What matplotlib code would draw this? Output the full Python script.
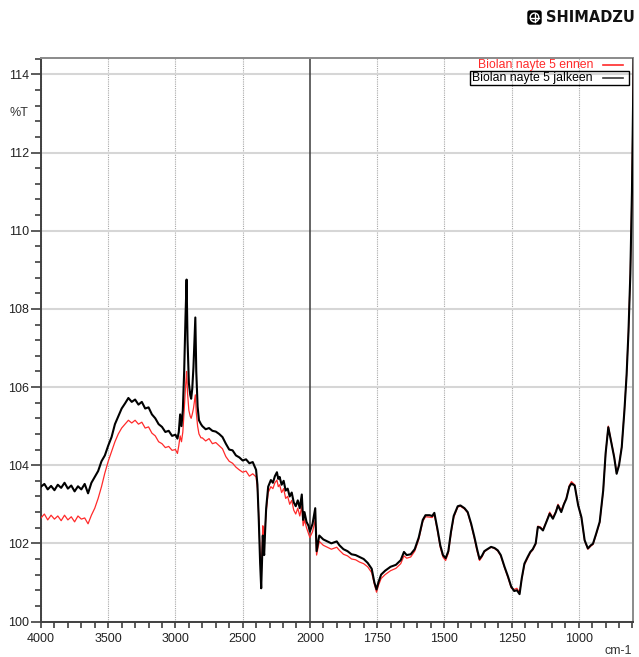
import matplotlib
matplotlib.use("Agg")
import matplotlib.pyplot as plt
import numpy as np
from matplotlib.ticker import FixedLocator, MultipleLocator, FormatStrFormatter
from matplotlib.patches import Rectangle, FancyBboxPatch, Circle
from matplotlib.lines import Line2D

plt.rcParams['font.family'] = ['Liberation Sans', 'DejaVu Sans']

# wavenumbers (cm-1)
wavenumber = [
    4000, 3975, 3950, 3925, 3900, 3875, 3850, 3825, 3800, 3775,
    3750, 3725, 3700, 3675, 3650, 3625, 3600, 3575, 3550, 3525,
    3500, 3475, 3450, 3425, 3400, 3375, 3350, 3325, 3300, 3275,
    3250, 3225, 3200, 3175, 3150, 3125, 3100, 3075, 3050, 3025,
    3000,
    2985, 2975, 2965, 2955, 2945, 2935, 2925, 2917, 2910, 2900,
    2890, 2883, 2875, 2866, 2858, 2852, 2845, 2835, 2825, 2810,
    2800, 2775, 2750, 2725, 2700, 2675, 2650, 2625, 2600, 2575,
    2550, 2525, 2500, 2475, 2450, 2425, 2400, 2390, 2380, 2370,
    2362, 2355, 2350, 2345, 2340, 2333, 2325, 2310, 2290, 2275,
    2260, 2245, 2235, 2225, 2210, 2195, 2180, 2165, 2150, 2135,
    2120, 2105, 2090, 2075, 2060, 2050, 2040, 2025, 2010, 2000,
    1990, 1980, 1975, 1965, 1950, 1935, 1920, 1900, 1890, 1875,
    1860, 1845, 1830, 1815, 1800, 1785, 1770, 1760, 1752, 1745,
    1735, 1720, 1700, 1680, 1662, 1650, 1640, 1625, 1610, 1595,
    1580, 1570, 1555, 1545, 1537, 1525, 1515, 1505, 1495, 1485,
    1475, 1465, 1450, 1440, 1425, 1413, 1400, 1388, 1378, 1369,
    1360, 1351, 1340, 1326, 1313, 1301, 1290, 1276, 1263, 1251,
    1240, 1230, 1220, 1212, 1202, 1190, 1180, 1171, 1160, 1152,
    1143, 1133, 1120, 1108, 1096, 1085, 1077, 1065, 1055, 1046,
    1035, 1027, 1015, 1002, 990, 978, 966, 955, 947, 935,
    922, 909, 900, 890, 878, 868, 859, 850, 840, 830,
    822, 815, 808, 802, 795,
]

# %T, sample 5 before (red)
t_before = [
    102.65, 102.75, 102.60, 102.72, 102.62, 102.70, 102.58, 102.72, 102.60, 102.68,
    102.55, 102.70, 102.62, 102.65, 102.50, 102.72, 102.90, 103.15, 103.45, 103.80,
    104.10, 104.35, 104.60, 104.80, 104.95, 105.05, 105.15, 105.08, 105.15, 105.05,
    105.10, 104.95, 104.98, 104.82, 104.75, 104.60, 104.55, 104.45, 104.48, 104.38,
    104.40,
    104.30, 104.50, 104.75, 104.60, 104.85, 105.40, 106.00, 106.40, 105.85, 105.40,
    105.25, 105.20, 105.30, 105.45, 105.65, 105.80, 105.35, 105.00, 104.80, 104.70,
    104.70, 104.62, 104.68, 104.55, 104.58, 104.50, 104.42, 104.22, 104.10, 104.05,
    103.95, 103.88, 103.82, 103.85, 103.72, 103.78, 103.70, 103.40, 102.70, 101.70,
    101.10, 101.90, 102.45, 102.30, 102.00, 102.40, 102.80, 103.30, 103.45, 103.40,
    103.55, 103.62, 103.45, 103.50, 103.30, 103.40, 103.15, 103.20, 103.00, 103.10,
    102.85, 102.75, 102.90, 102.70, 102.95, 102.45, 102.60, 102.40, 102.25, 102.15,
    102.30, 102.60, 101.70, 102.05, 101.95, 101.90, 101.85, 101.90, 101.82, 101.72,
    101.68, 101.60, 101.58, 101.52, 101.48, 101.40, 101.25, 100.95, 100.75, 100.92,
    101.10, 101.20, 101.30, 101.36, 101.48, 101.68, 101.62, 101.65, 101.80, 102.10,
    102.56, 102.68, 102.67, 102.66, 102.74, 102.30, 101.90, 101.65, 101.56, 101.75,
    102.25, 102.66, 102.93, 102.95, 102.88, 102.78, 102.47, 102.12, 101.80, 101.56,
    101.65, 101.78, 101.84, 101.90, 101.87, 101.80, 101.68, 101.38, 101.12, 100.86,
    100.82, 100.85, 100.74, 101.08, 101.45, 101.62, 101.76, 101.83, 101.98, 102.44,
    102.42, 102.35, 102.56, 102.80, 102.66, 102.82, 103.00, 102.84, 103.02, 103.16,
    103.48, 103.58, 103.50, 102.98, 102.66, 102.06, 101.85, 101.93, 101.97, 102.23,
    102.53, 103.33, 104.28, 105.00, 104.57, 104.22, 103.80, 104.02, 104.48, 105.42,
    106.32, 107.42, 108.92, 111.05, 114.85,
]

# %T, sample 5 after (black)
t_after = [
    103.45, 103.52, 103.38, 103.47, 103.36, 103.50, 103.42, 103.55, 103.40, 103.48,
    103.33, 103.46, 103.38, 103.52, 103.28, 103.55, 103.70, 103.85, 104.10, 104.25,
    104.50, 104.72, 105.05, 105.25, 105.45, 105.58, 105.72, 105.62, 105.68, 105.55,
    105.62, 105.45, 105.48, 105.30, 105.20, 105.05, 104.98, 104.85, 104.88, 104.75,
    104.78,
    104.68, 104.85, 105.30, 105.00, 105.40, 106.40, 107.80, 108.75, 107.20, 106.10,
    105.80, 105.70, 105.95, 106.50, 107.20, 107.78, 106.40, 105.50, 105.15, 105.05,
    105.00, 104.92, 104.95, 104.88, 104.86, 104.80, 104.72, 104.55, 104.40, 104.38,
    104.25, 104.20, 104.12, 104.15, 104.05, 104.08, 103.88, 103.50, 102.60, 101.50,
    100.85, 101.60, 102.20, 101.90, 101.70, 102.30, 102.90, 103.45, 103.62, 103.55,
    103.72, 103.82, 103.65, 103.70, 103.50, 103.60, 103.35, 103.40, 103.20, 103.30,
    103.05, 102.95, 103.10, 102.90, 103.25, 102.60, 102.80, 102.55, 102.45, 102.30,
    102.50, 102.90, 101.80, 102.20, 102.10, 102.05, 102.00, 102.05, 101.95, 101.85,
    101.80, 101.72, 101.70, 101.65, 101.60, 101.50, 101.35, 101.00, 100.82, 101.00,
    101.20, 101.30, 101.40, 101.45, 101.57, 101.78, 101.70, 101.72, 101.85, 102.15,
    102.60, 102.72, 102.72, 102.70, 102.78, 102.35, 101.95, 101.70, 101.62, 101.80,
    102.30, 102.70, 102.95, 102.97, 102.90, 102.80, 102.50, 102.16, 101.85, 101.60,
    101.68, 101.80, 101.85, 101.91, 101.88, 101.82, 101.70, 101.40, 101.15, 100.89,
    100.78, 100.80, 100.70, 101.10, 101.48, 101.65, 101.78, 101.85, 102.00, 102.42,
    102.40, 102.33, 102.55, 102.76, 102.63, 102.80, 102.97, 102.80, 103.00, 103.14,
    103.45, 103.53, 103.48, 102.97, 102.67, 102.08, 101.87, 101.95, 101.99, 102.25,
    102.55, 103.35, 104.30, 104.97, 104.55, 104.20, 103.78, 104.00, 104.46, 105.40,
    106.30, 107.40, 108.90, 111.00, 114.80,
]

series_labels = ["Biolan nayte 5 ennen", "Biolan nayte 5 jalkeen"]
x_major = [4000, 3500, 3000, 2500, 2000, 1750, 1500, 1250, 1000]

W, H = 639, 657
def fx(px):
    return px / W
def fy(py):
    return 1 - py / H

fig = plt.figure(figsize=(W / 100, H / 100), dpi=100)
ax = fig.add_axes([fx(41), fy(621.5), fx(633.3) - fx(41), fy(58) - fy(621.5)])

# x axis is compressed 2:1 above 2000 cm-1 like the instrument software
def fwd(x):
    x = np.asarray(x, dtype=float)
    return np.where(x >= 2000, x, 2000 - 2 * (2000 - x))
def inv(u):
    u = np.asarray(u, dtype=float)
    return np.where(u >= 2000, u, 2000 - (2000 - u) / 2)
ax.set_xscale('function', functions=(fwd, inv))

ax.plot(wavenumber, t_before, color='#ff2a2a', lw=0.9, zorder=3)
ax.plot(wavenumber, t_after, color='black', lw=1.5, zorder=4)

ax.set_xlim(4000, 797)
ax.set_ylim(100, 114.42)

ax.xaxis.set_major_locator(FixedLocator(x_major))
x_minor = [v for v in list(range(4000, 2000, -100)) + list(range(2000, 797, -50)) if v not in x_major]
ax.xaxis.set_minor_locator(FixedLocator(x_minor))
ax.xaxis.set_major_formatter(FormatStrFormatter('%d'))
ax.yaxis.set_major_locator(MultipleLocator(2))
ax.yaxis.set_minor_locator(MultipleLocator(0.4))
ax.yaxis.set_major_formatter(FormatStrFormatter('%d'))

ax.yaxis.grid(True, color='#d6d6d6', lw=1.5, zorder=0)
for v in x_major:
    if v == 2000:
        ax.axvline(v, color='#3a3a3a', lw=1.1, zorder=2)
    else:
        ax.axvline(v, color='#a8a8a8', lw=0.8, ls=(0, (1, 1)), zorder=1)

ax.tick_params(axis='x', which='both', direction='out', length=4, width=1.2,
               color='#404040', labelsize=9, labelcolor='#222222', pad=4)
ax.tick_params(axis='y', which='major', direction='out', length=7.5, width=1.2,
               color='#404040', labelsize=9, labelcolor='#222222', pad=1)
ax.tick_params(axis='y', which='minor', direction='out', length=4.3, width=1.2,
               color='#404040')
for s in ['left', 'bottom']:
    ax.spines[s].set_color('#404040')
    ax.spines[s].set_linewidth(1.4)
for s in ['top', 'right']:
    ax.spines[s].set_color('#8a8a8a')
    ax.spines[s].set_linewidth(1.4)

fig.text(fx(19), fy(113), '%T', fontsize=9, color='#333333', ha='center', va='center')
fig.text(fx(618), fy(651), 'cm-1', fontsize=9, color='#333333', ha='center', va='center')

# legend, top right inside the plot
leg_colors = ['#ff2a2a', '#3a3a3a']
leg_text_colors = ['#ff2a2a', 'black']
for i, (lab, c, tc) in enumerate(zip(series_labels, leg_colors, leg_text_colors)):
    yy = 65 + i * 13
    fig.text(fx(593), fy(yy), lab, fontsize=8.8, color=tc, ha='right', va='center')
    fig.add_artist(Line2D([fx(603), fx(623)], [fy(yy), fy(yy)], color=c, lw=1.2))
fig.add_artist(Rectangle((fx(470), fy(85)), fx(629) - fx(470), fy(71) - fy(85),
                         fill=False, ec='black', lw=1, transform=fig.transFigure))

# SHIMADZU logo
fig.add_artist(FancyBboxPatch((fx(528), fy(24)), fx(541) - fx(528), fy(11) - fy(24),
                              boxstyle='round,pad=0,rounding_size=0.003',
                              fc='black', ec='black', transform=fig.transFigure))
cx, cy = fx(534.5), fy(17.5)
fig.add_artist(Circle((cx, cy), 4.3 / W, fill=False, ec='white', lw=1,
                      transform=fig.transFigure))
fig.add_artist(Line2D([fx(530.5), fx(538.5)], [cy, cy], color='white', lw=1))
fig.add_artist(Line2D([cx, cx], [fy(13.5), fy(21.5)], color='white', lw=1))
fig.text(fx(546), fy(18), 'SHIMADZU', fontsize=10.5, fontweight='bold',
         family=['DejaVu Sans'], color='#111111', ha='left', va='center')

fig.savefig('out.png', dpi=100)
